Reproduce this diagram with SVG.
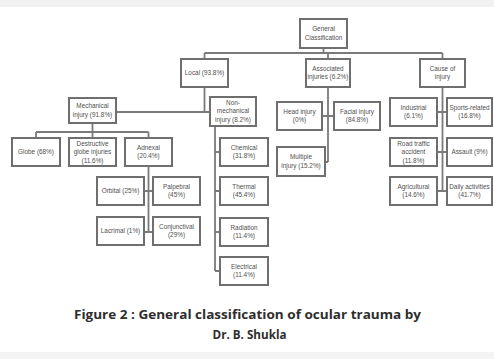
<svg xmlns="http://www.w3.org/2000/svg" width="494" height="359" viewBox="0 0 494 359">
<style>
.b{fill:#ffffff;stroke:#6f6f6f;stroke-width:2}
.c{fill:none;stroke:#7a7a7a;stroke-width:1.8}
.t{font-family:"Liberation Sans",Arial,sans-serif;font-size:6.4px;fill:#505050;text-anchor:middle}
.cap{font-family:"Open Sans","Liberation Sans",sans-serif;font-size:13px;font-weight:bold;fill:#2e2e2e;text-anchor:middle}
</style>
<rect x="0" y="0" width="494" height="359" fill="#ffffff"/>
<rect x="0" y="0" width="494" height="7" fill="#f2f2f2"/>
<rect x="0" y="352" width="494" height="7" fill="#f4f4f4"/>
<g id="connectors">
<path class="c" d="M323.5 48V53M204.5 53H442.5M204.5 53V59M328 53V59M442.5 53V59"/>
<path class="c" d="M204.5 87V112M116 112H210"/>
<path class="c" d="M92.5 123V132M36 132H148.5M36 132V138M92.5 132V138M148.5 132V138"/>
<path class="c" d="M148.5 166V232M144 191H153M144 232H153"/>
<path class="c" d="M215 126V271M215 152H220M215 191H220M215 232H220M215 271H220"/>
<path class="c" d="M328 87V162M322 116H334M325 162H328"/>
<path class="c" d="M442.5 87V191M437 112H447M437 152H447M437 191H447"/>
</g>
<g id="general"><rect class="b" x="300" y="19" width="47" height="29"/><text class="t" x="323.5" y="31">General</text><text class="t" x="323.5" y="40">Classification</text></g>
<g id="local"><rect class="b" x="181" y="59" width="47" height="28"/><text class="t" x="204.5" y="75">Local (93.8%)</text></g>
<g id="associated"><rect class="b" x="306" y="59" width="44" height="28"/><text class="t" x="328" y="70.5">Associated</text><text class="t" x="328" y="79">injuries (6.2%)</text></g>
<g id="cause"><rect class="b" x="420" y="59" width="45" height="28"/><text class="t" x="442.5" y="70.5">Cause of</text><text class="t" x="442.5" y="79">injury</text></g>
<g id="mechanical"><rect class="b" x="69" y="98" width="47" height="25"/><text class="t" x="92.5" y="108">Mechanical</text><text class="t" x="92.5" y="117">injury (91.8%)</text></g>
<g id="nonmechanical"><rect class="b" x="210" y="97" width="46" height="29"/><text class="t" x="233" y="104.5">Non-</text><text class="t" x="233" y="113">mechanical</text><text class="t" x="233" y="121.5">injury (8.2%)</text></g>
<g id="globe"><rect class="b" x="12" y="138" width="48" height="28"/><text class="t" x="36" y="154">Globe (68%)</text></g>
<g id="destructive"><rect class="b" x="69" y="138" width="47" height="28"/><text class="t" x="92.5" y="145.5">Destructive</text><text class="t" x="92.5" y="154">globe injuries</text><text class="t" x="92.5" y="162.5">(11.6%)</text></g>
<g id="adnexal"><rect class="b" x="125" y="138" width="47" height="28"/><text class="t" x="148.5" y="149.5">Adnexal</text><text class="t" x="148.5" y="158">(20.4%)</text></g>
<g id="orbital"><rect class="b" x="97" y="177" width="47" height="28"/><text class="t" x="120.5" y="193">Orbital (25%)</text></g>
<g id="palpebral"><rect class="b" x="153" y="177" width="47" height="28"/><text class="t" x="176.5" y="188.5">Palpebral</text><text class="t" x="176.5" y="197">(45%)</text></g>
<g id="lacrimal"><rect class="b" x="97" y="217" width="47" height="28"/><text class="t" x="120.5" y="233">Lacrimal (1%)</text></g>
<g id="conjunctival"><rect class="b" x="153" y="217" width="47" height="28"/><text class="t" x="176.5" y="228.5">Conjunctival</text><text class="t" x="176.5" y="237">(29%)</text></g>
<g id="chemical"><rect class="b" x="220" y="138" width="48" height="28"/><text class="t" x="244" y="149.5">Chemical</text><text class="t" x="244" y="158">(31.8%)</text></g>
<g id="thermal"><rect class="b" x="220" y="177" width="48" height="28"/><text class="t" x="244" y="188.5">Thermal</text><text class="t" x="244" y="197">(45.4%)</text></g>
<g id="radiation"><rect class="b" x="220" y="218" width="48" height="28"/><text class="t" x="244" y="229.5">Radiation</text><text class="t" x="244" y="238">(11.4%)</text></g>
<g id="electrical"><rect class="b" x="220" y="257" width="48" height="28"/><text class="t" x="244" y="268.5">Electrical</text><text class="t" x="244" y="277">(11.4%)</text></g>
<g id="head"><rect class="b" x="277" y="102" width="45" height="28"/><text class="t" x="299.5" y="113.5">Head injury</text><text class="t" x="299.5" y="122">(0%)</text></g>
<g id="facial"><rect class="b" x="334" y="102" width="46" height="28"/><text class="t" x="357" y="113.5">Facial injury</text><text class="t" x="357" y="122">(84.8%)</text></g>
<g id="multiple"><rect class="b" x="277" y="147" width="48" height="29"/><text class="t" x="301" y="159">Multiple</text><text class="t" x="301" y="167.5">injury (15.2%)</text></g>
<g id="industrial"><rect class="b" x="390" y="98" width="47" height="28"/><text class="t" x="413.5" y="109.5">Industrial</text><text class="t" x="413.5" y="118">(6.1%)</text></g>
<g id="sports"><rect class="b" x="447" y="98" width="45" height="28"/><text class="t" x="469.5" y="109.5">Sports-related</text><text class="t" x="469.5" y="118">(16.8%)</text></g>
<g id="road"><rect class="b" x="390" y="138" width="47" height="28"/><text class="t" x="413.5" y="145.5">Road traffic</text><text class="t" x="413.5" y="154">accident</text><text class="t" x="413.5" y="162.5">(11.8%)</text></g>
<g id="assault"><rect class="b" x="447" y="138" width="45" height="28"/><text class="t" x="469.5" y="154">Assault (9%)</text></g>
<g id="agricultural"><rect class="b" x="390" y="177" width="47" height="28"/><text class="t" x="413.5" y="188.5">Agricultural</text><text class="t" x="413.5" y="197">(14.6%)</text></g>
<g id="daily"><rect class="b" x="447" y="177" width="45" height="28"/><text class="t" x="469.5" y="188.5">Daily activities</text><text class="t" x="469.5" y="197">(41.7%)</text></g>
<g id="caption">
<text class="cap" x="247.5" y="319" textLength="347" lengthAdjust="spacingAndGlyphs">Figure 2 : General classification of ocular trauma by</text>
<text class="cap" x="249.5" y="339" textLength="74" lengthAdjust="spacingAndGlyphs">Dr. B. Shukla</text>
</g>
</svg>
